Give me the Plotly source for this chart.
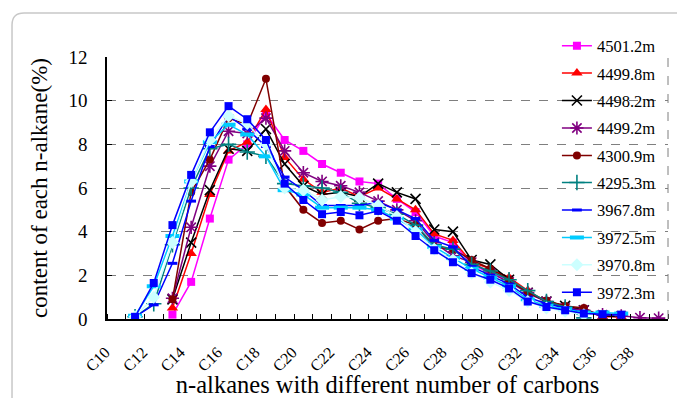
import plotly.graph_objects as go

carbons = ["C%d" % n for n in range(10, 40)]
tick_labels = ["C%d" % n for n in range(10, 40, 2)]

N = None
s_4501_2 = [N, N, N, 0.2, 1.7, 4.6, 7.3, 8.0, 9.4, 8.2, 7.7, 7.1, 6.7, 6.3, 6.2, 5.5, 4.9, 3.8, 3.5, 2.5, 2.1, 1.8, 1.2, 0.8, 0.5, 0.4, 0.15, 0.1, N, N]
s_4499_8 = [N, N, N, 0.5, 3.0, 5.7, 7.7, 8.1, 9.6, 7.4, 6.4, 5.8, 6.0, 5.6, 6.0, 5.5, 5.0, 3.9, 3.6, 2.6, 2.3, 1.9, 1.3, 0.8, 0.6, 0.4, 0.1, 0.1, N, N]
s_4498_2 = [N, N, N, 0.9, 3.5, 5.9, 7.8, 7.7, 8.7, 7.1, 6.1, 5.7, 5.8, 5.6, 6.2, 5.8, 5.5, 4.1, 4.0, 2.7, 2.5, 1.8, 1.2, 0.8, 0.6, 0.4, 0.15, 0.1, N, N]
s_4499_2 = [N, N, N, 0.95, 4.2, 7.0, 8.6, 8.5, 9.2, 7.7, 6.7, 6.3, 6.1, 5.8, 5.4, 5.0, 4.5, 3.5, 2.9, 2.6, 2.1, 1.7, 1.2, 0.8, 0.5, 0.4, 0.2, 0.15, 0.06, 0.04]
s_4300_9 = [N, N, N, 0.9, 5.8, 7.3, 9.2, 8.9, 11.0, 6.1, 5.0, 4.4, 4.5, 4.1, 4.5, 4.6, 4.3, 3.3, 3.2, 2.7, 2.3, 1.8, 1.2, 0.85, 0.6, 0.5, 0.1, N, N, N]
s_4295_3 = [N, 0.1, 0.7, 3.4, 6.0, 7.8, 8.0, 7.65, 7.45, 6.2, 6.1, 6.0, 5.8, 5.3, 5.1, 4.8, 4.3, 3.4, 3.2, 2.5, 2.2, 1.8, 1.3, 0.8, 0.55, 0.05, N, N, N, N]
s_3967_8 = [N, 0.1, 0.65, 2.55, 5.4, 7.9, 9.3, 8.7, 7.9, 6.5, 5.9, 5.2, 5.2, 5.2, 5.35, 5.0, 4.6, 3.6, 3.3, 2.4, 2.0, 1.6, 1.0, 0.7, 0.5, 0.3, 0.2, 0.2, N, N]
s_3972_5 = [N, 0.15, 1.5, 3.8, 6.3, 8.1, 8.9, 8.45, 7.45, 5.9, 5.7, 5.1, 5.1, 5.1, 5.0, 4.6, 4.1, 3.3, 2.8, 2.3, 1.9, 1.5, 0.9, 0.6, 0.45, 0.3, 0.3, 0.25, N, N]
s_3970_8 = [N, 0.1, 1.0, 3.5, 6.3, 8.2, 9.3, 8.95, 8.0, 6.0, 5.9, 5.45, 5.6, 5.55, 5.2, 4.7, 4.0, 3.2, 2.7, 2.1, 1.7, 1.3, 0.8, 0.5, 0.35, 0.2, N, N, N, N]
s_3972_3 = [N, 0.1, 1.65, 4.3, 6.6, 8.55, 9.75, 9.15, 8.2, 6.2, 5.45, 4.8, 4.9, 4.75, 4.95, 4.5, 3.8, 3.15, 2.6, 2.1, 1.8, 1.4, 0.8, 0.55, 0.4, 0.25, 0.22, 0.2, N, N]

series = [
    ("4501.2m", s_4501_2, "#FF00FF", "square", 8, 0),
    ("4499.8m", s_4499_8, "#FF0000", "triangle-up", 10, 0),
    ("4498.2m", s_4498_2, "#000000", "x-thin", 10, 1.6),
    ("4499.2m", s_4499_2, "#800080", "asterisk", 11, 1.6),
    ("4300.9m", s_4300_9, "#800000", "circle", 8, 0),
    ("4295.3m", s_4295_3, "#008080", "cross-thin", 11, 1.6),
    ("3967.8m", s_3967_8, "#0000FF", "line-ew", 7, 3),
    ("3972.5m", s_3972_5, "#00CCFF", "line-ew", 10, 4),
    ("3970.8m", s_3970_8, "#CCFFFF", "diamond", 10, 0),
    ("3972.3m", s_3972_3, "#0000FF", "square", 8, 0),
]

xnum = [int(c[1:]) for c in carbons]
font = "Liberation Serif"

fig = go.Figure()
for i, (name, vals, col, sym, size, lw) in enumerate(series):
    fig.add_trace(go.Scatter(
        x=xnum, y=vals, name=name, mode="lines+markers",
        legendgroup="g%d" % i,
        legend="legend" if i < 5 else "legend2",
        line=dict(color=col, width=1.5),
        marker=dict(symbol=sym, size=size, color=col,
                    line=dict(color=col, width=lw)),
    ))

leg_common = dict(x=0.802, xanchor="left", yanchor="top", yref="container",
                  bgcolor="rgba(0,0,0,0)", borderwidth=0,
                  font=dict(size=16.5, family=font),
                  tracegroupgap=3, itemwidth=30)

fig.update_layout(
    width=677, height=398,
    margin=dict(l=107, r=9, t=57, b=79, autoexpand=False),
    paper_bgcolor="white", plot_bgcolor="white",
    font=dict(family=font, color="black"),
    showlegend=True,
    legend=dict(y=0.9286, **leg_common),
    legend2=dict(y=0.5847, **leg_common),
    xaxis=dict(
        range=[9.5, 39.5], tickmode="array",
        tickvals=[int(t[1:]) for t in tick_labels], ticktext=tick_labels,
        tickangle=-45, ticks="", showgrid=False, automargin=False,
        showline=True, linecolor="black", linewidth=1.5,
        tickfont=dict(size=16, family=font),
        ticklabelstandoff=16, ticklabelshift=-11,
        minor=dict(tick0=9.5, dtick=1, ticks="inside", ticklen=5,
                   tickcolor="black", tickwidth=1, showgrid=False),
        title=dict(text="n-alkanes with different number of carbons",
                   font=dict(size=24.5, family=font), standoff=6),
        zeroline=False,
    ),
    yaxis=dict(
        range=[0, 12], dtick=2, tickmode="linear", tick0=0, automargin=False,
        ticks="inside", ticklen=5, tickcolor="black",
        showline=True, linecolor="black", linewidth=1.5,
        showgrid=True, gridcolor="#7f7f7f", griddash="dash", gridwidth=1,
        tickfont=dict(size=19, family=font),
        ticklabelstandoff=14,
        title=dict(text="content of each n-alkane(%)",
                   font=dict(size=23, family=font), standoff=14),
        zeroline=False,
    ),
)

# white area behind the legend (hides gridlines, not data)
fig.add_shape(type="rect", xref="paper", yref="paper",
              x0=0.781, x1=0.977, y0=0.0725, y1=1.0,
              fillcolor="white", line=dict(width=0), layer="between")

# dashed right border of plot area
fig.add_shape(type="line", xref="paper", yref="paper", x0=1, x1=1, y0=0, y1=1,
              line=dict(color="#7f7f7f", width=1, dash="dash"))

# outer rounded frame (extends beyond right/bottom edges)
x0, y0 = -0.1693, 1.1679
rx, ry = 0.0214, 0.0458
fig.add_shape(type="path", xref="paper", yref="paper",
              path=(f"M {x0},-0.4 L {x0},{y0-ry} Q {x0},{y0} {x0+rx},{y0} L 1.05,{y0}"),
              line=dict(color="#c8c8c8", width=1.5), layer="below")

fig.write_html("out.html")
